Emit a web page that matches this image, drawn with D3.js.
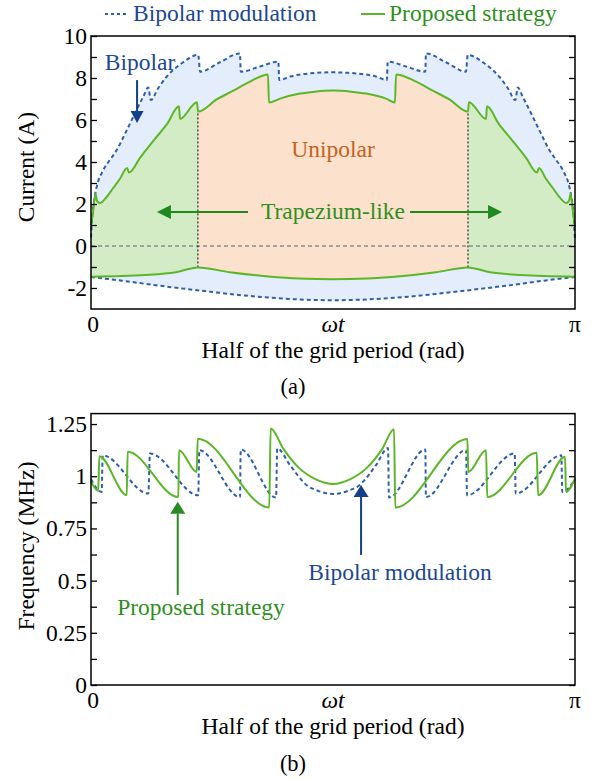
<!DOCTYPE html>
<html>
<head>
<meta charset="utf-8">
<script src="https://cdn.jsdelivr.net/npm/d3@7/dist/d3.min.js"></script>
<style>
  html, body { margin: 0; padding: 0; background: #fff; }
</style>
</head>
<body>
<svg id="chart" width="594" height="780"></svg>
<script>
// ---- data (x in rad, 0..pi) ----
// (a) current envelopes
var bipolarUpper = [
    [0, 0.4], [0.008, 1.4], [0.023, 2.3], [0.037, 2.82], [0.080, 3.62], [0.123, 4.1],
    [0.167, 4.57], [0.221, 5.35], [0.275, 6.16], [0.339, 7.11], [0.372, 7.55], [0.388, 6.95],
    [0.435, 7.5], [0.491, 8.06], [0.589, 8.7], [0.696, 9.1], [0.708, 8.3], [0.837, 8.75],
    [0.967, 9.17], [0.972, 8.3], [1.097, 8.55], [1.216, 8.78], [1.222, 7.9], [1.292, 8.07],
    [1.422, 8.22], [1.571, 8.27], [1.720, 8.22], [1.850, 8.07], [1.920, 7.9], [1.926, 8.78],
    [2.045, 8.55], [2.170, 8.3], [2.174, 9.17], [2.304, 8.75], [2.434, 8.3], [2.445, 9.1],
    [2.553, 8.7], [2.650, 8.06], [2.707, 7.5], [2.754, 6.95], [2.770, 7.55], [2.802, 7.11],
    [2.867, 6.16], [2.921, 5.35], [2.975, 4.57], [3.019, 4.1], [3.062, 3.62], [3.105, 2.82],
    [3.119, 2.3], [3.133, 1.4], [Math.PI, 0.3]
];
var bipolarLower = [
    [0, -1.48], [0.2, -1.65], [0.4, -1.85], [0.6, -2.03], [0.8, -2.2], [1.0, -2.36],
    [1.2, -2.48], [1.4, -2.56], [1.571, -2.58], [1.74, -2.56], [1.94, -2.48], [2.14, -2.36],
    [2.34, -2.2], [2.54, -2.03], [2.74, -1.85], [2.94, -1.65], [Math.PI, -1.48]
];
var proposedUpper = [
    [0, 1.0], [0.013, 1.6], [0.029, 2.5], [0.039, 2.15], [0.058, 2.05], [0.097, 2.3],
    [0.143, 2.75], [0.188, 3.2], [0.234, 3.72], [0.247, 3.5], [0.318, 4.2], [0.415, 5.1],
    [0.493, 5.8], [0.571, 6.65], [0.578, 6.05], [0.688, 6.85], [0.695, 6.4], [0.816, 6.98],
    [0.924, 7.40], [1.032, 7.83], [1.149, 8.17], [1.155, 6.83], [1.227, 7.02], [1.357, 7.26],
    [1.454, 7.35], [1.571, 7.40], [1.688, 7.35], [1.785, 7.26], [1.915, 7.02], [1.973, 6.83],
    [1.980, 8.17], [2.110, 7.83], [2.218, 7.40], [2.326, 6.98], [2.447, 6.4], [2.453, 6.85],
    [2.564, 6.05], [2.570, 6.65], [2.648, 5.8], [2.726, 5.1], [2.824, 4.2], [2.895, 3.5],
    [2.908, 3.72], [2.953, 3.2], [2.999, 2.75], [3.044, 2.3], [3.083, 2.05], [3.103, 2.15],
    [3.113, 2.5], [3.129, 1.6], [Math.PI, 0.9]
];
var proposedLower = [
    [0, -1.46], [0.35, -1.38], [0.55, -1.25], [0.694, -1.02], [0.9, -1.25], [1.15, -1.45],
    [1.35, -1.55], [1.571, -1.58], [1.79, -1.55], [1.99, -1.45], [2.24, -1.25], [2.447, -1.02],
    [2.59, -1.25], [2.79, -1.38], [Math.PI, -1.46]
];
// unipolar zone borders: x, lower and upper current
var zoneEdges = [[0.694, -1.02, 6.4], [2.447, -1.02, 6.4]];

// (b) switching frequency
var bipolarFreq = [
    [0, 0.985], [0.069, 0.925], [0.076, 1.10], [0.372, 0.917], [0.383, 1.109], [0.696, 0.909],
    [0.703, 1.125], [0.967, 0.90], [0.972, 1.128], [1.201, 0.898], [1.209, 1.133], [1.292, 1.053],
    [1.400, 0.957], [1.474, 0.93], [1.571, 0.915], [1.668, 0.93], [1.742, 0.957], [1.850, 1.053],
    [1.928, 1.135], [1.934, 0.898], [2.170, 1.128], [2.174, 0.90], [2.434, 1.125], [2.441, 0.909],
    [2.750, 1.109], [2.757, 0.917], [3.053, 1.10], [3.059, 0.925], [Math.PI, 0.985]
];
var proposedFreq = [
    [0, 0.975], [0.047, 0.93], [0.054, 1.096], [0.232, 0.91], [0.238, 1.117], [0.567, 0.90],
    [0.571, 1.125], [0.686, 1.02], [0.693, 1.18], [1.157, 0.85], [1.166, 1.229], [1.25, 1.13],
    [1.35, 1.04], [1.46, 0.985], [1.571, 0.963], [1.68, 0.985], [1.79, 1.04], [1.89, 1.13],
    [1.967, 1.225], [1.975, 0.85], [2.443, 1.178], [2.449, 1.02], [2.564, 1.125], [2.572, 0.90],
    [2.893, 1.112], [2.902, 0.909], [3.077, 1.093], [3.083, 0.925], [Math.PI, 0.99]
];

var xTickLabels = [[0, '0'], [Math.PI / 2, 'ωt'], [Math.PI, 'π']];
var currentTicks = d3.range(-2, 11);
var freqTicks = d3.range(0, 1.26, 0.125);

// ---- styles ----
var BLUE = '#2e5fa9', GREEN = '#5cb628',
    BLUE_FILL = '#e4edfb', GREEN_FILL = '#d4ecc5', ORANGE_FILL = '#fce1cd',
    BLUE_TEXT = '#1d4793', GREEN_TEXT = '#2f8f1c', ORANGE_TEXT = '#c4621f',
    FONT = "'Liberation Serif'",
    FS = 23.5;

var svg = d3.select('#chart');
var x = d3.scaleLinear().domain([0, Math.PI]).range([91, 575]);
var yA = d3.scaleLinear().domain([-3, 10]).range([309, 36]);
var yB = d3.scaleLinear().domain([0, 1.3]).range([685, 413.6]);

function lineOf(y) {
    return d3.line().x(function (d) { return x(d[0]); }).y(function (d) { return y(d[1]); })
        .curve(d3.curveMonotoneX);
}
function areaDown(y) {
    return d3.area().x(function (d) { return x(d[0]); })
        .y0(y.range()[0]).y1(function (d) { return y(d[1]); })
        .curve(d3.curveMonotoneX);
}
function arrow(g, x1, y1, x2, y2, color, len, wid) {
    var a = Math.atan2(y2 - y1, x2 - x1),
        bx = x2 - len * Math.cos(a), by = y2 - len * Math.sin(a),
        nx = -Math.sin(a) * wid / 2, ny = Math.cos(a) * wid / 2;
    g.append('line').attr('x1', x1).attr('y1', y1).attr('x2', bx).attr('y2', by)
        .attr('stroke', color).attr('stroke-width', 2);
    g.append('path')
        .attr('d', 'M' + x2 + ',' + y2 + 'L' + (bx + nx) + ',' + (by + ny) + 'L' + (bx - nx) + ',' + (by - ny) + 'Z')
        .attr('fill', color);
}
function styleAxis(sel) {
    sel.select('.domain').remove();
    sel.selectAll('.tick line').attr('stroke', '#000').attr('stroke-width', 1.3);
    sel.selectAll('.tick text').attr('font-size', FS).attr('fill', '#000');
}
function frame(g, y, ticks, fmt) {
    var r = x.range(), d = y.range();
    g.append('g').attr('transform', 'translate(' + r[0] + ',0)')
        .call(d3.axisLeft(y).tickValues(ticks).tickSize(-6).tickPadding(4).tickFormat(fmt))
        .call(styleAxis);
    g.append('g').attr('transform', 'translate(' + r[1] + ',0)')
        .call(d3.axisRight(y).tickValues(ticks).tickSize(-6).tickFormat(''))
        .call(styleAxis);
    g.append('rect').attr('x', r[0]).attr('y', d[1]).attr('width', r[1] - r[0]).attr('height', d[0] - d[1])
        .attr('fill', 'none').attr('stroke', '#000').attr('stroke-width', 1.5);
    g.selectAll('.xlab').data(xTickLabels).enter().append('text')
        .attr('x', function (t) { return x(t[0]) + (t[0] === 0 ? 2 : 0); })
        .attr('y', d[0] + 23)
        .attr('text-anchor', 'middle').attr('font-size', FS)
        .attr('font-style', function (t) { return t[1] === 'ωt' ? 'italic' : null; })
        .text(function (t) { return t[1]; });
    g.append('text').attr('x', 333).attr('y', d[0] + 49).attr('text-anchor', 'middle')
        .attr('font-size', FS).text('Half of the grid period (rad)');
}

// ---- (a) current ----
var defs = svg.append('defs');
var ga = svg.append('g');
var zones = [[0, zoneEdges[0][0], 'trapL'], [zoneEdges[0][0], zoneEdges[1][0], 'uni'], [zoneEdges[1][0], Math.PI, 'trapR']];
zones.forEach(function (z) {
    defs.append('clipPath').attr('id', 'clip-' + z[2]).append('rect')
        .attr('x', x(z[0])).attr('y', 0).attr('width', x(z[1]) - x(z[0])).attr('height', 780);
});

ga.append('path').datum(bipolarUpper).attr('d', areaDown(yA)).attr('fill', BLUE_FILL);
zones.forEach(function (z) {
    ga.append('path').datum(proposedUpper).attr('d', areaDown(yA))
        .attr('clip-path', 'url(#clip-' + z[2] + ')')
        .attr('fill', z[2] === 'uni' ? ORANGE_FILL : GREEN_FILL);
});
ga.append('path').datum(proposedLower).attr('d', areaDown(yA)).attr('fill', BLUE_FILL);
ga.append('path').datum(bipolarLower).attr('d', areaDown(yA)).attr('fill', '#fff');

ga.append('line').attr('x1', x(0)).attr('x2', x(Math.PI)).attr('y1', yA(0)).attr('y2', yA(0))
    .attr('stroke', '#8c8c8c').attr('stroke-width', 1.5).attr('stroke-dasharray', '4,3');
ga.selectAll('.edge').data(zoneEdges).enter().append('line')
    .attr('x1', function (d) { return x(d[0]); }).attr('x2', function (d) { return x(d[0]); })
    .attr('y1', function (d) { return yA(d[1]); }).attr('y2', function (d) { return yA(d[2]); })
    .attr('stroke', '#000').attr('stroke-width', 1).attr('stroke-dasharray', '2,2');

[bipolarUpper, bipolarLower].forEach(function (s) {
    ga.append('path').datum(s).attr('d', lineOf(yA)).attr('fill', 'none')
        .attr('stroke', BLUE).attr('stroke-width', 2).attr('stroke-dasharray', '4,3');
});
[proposedUpper, proposedLower].forEach(function (s) {
    ga.append('path').datum(s).attr('d', lineOf(yA)).attr('fill', 'none')
        .attr('stroke', GREEN).attr('stroke-width', 2);
});

frame(ga, yA, currentTicks, function (d) { return d % 2 === 0 ? d : ''; });
ga.append('text').attr('transform', 'translate(34,167) rotate(-90)').attr('text-anchor', 'middle')
    .attr('font-size', FS).text('Current (A)');

// annotations (a)
ga.append('text').attr('x', 140).attr('y', 70).attr('text-anchor', 'middle')
    .attr('font-size', FS).attr('fill', BLUE_TEXT).text('Bipolar');
arrow(ga, x(0.299), yA(7.9), x(0.299), yA(5.86), '#123f88', 12, 13);
ga.append('text').attr('x', 333).attr('y', 157).attr('text-anchor', 'middle')
    .attr('font-size', FS).attr('fill', ORANGE_TEXT).text('Unipolar');
ga.append('text').attr('x', 333).attr('y', 219).attr('text-anchor', 'middle')
    .attr('font-size', FS).attr('fill', GREEN_TEXT).text('Trapezium-like');
arrow(ga, x(1.019), yA(1.62), x(0.428), yA(1.62), '#1e8a1e', 14, 14);
arrow(ga, x(2.071), yA(1.62), x(2.668), yA(1.62), '#1e8a1e', 14, 14);
ga.append('text').attr('x', 293).attr('y', 394).attr('text-anchor', 'middle')
    .attr('font-size', FS - 1).text('(a)');

// legend
var lg = svg.append('g');
lg.append('line').attr('x1', 105).attr('x2', 127).attr('y1', 14).attr('y2', 14)
    .attr('stroke', BLUE).attr('stroke-width', 2).attr('stroke-dasharray', '3,3');
lg.append('text').attr('x', 133).attr('y', 21).attr('font-size', FS).attr('fill', BLUE_TEXT)
    .text('Bipolar modulation');
lg.append('line').attr('x1', 361).attr('x2', 385).attr('y1', 14).attr('y2', 14)
    .attr('stroke', GREEN).attr('stroke-width', 2);
lg.append('text').attr('x', 389).attr('y', 21).attr('font-size', FS).attr('fill', GREEN_TEXT)
    .text('Proposed strategy');

// ---- (b) frequency ----
var gb = svg.append('g');
gb.append('path').datum(bipolarFreq).attr('d', lineOf(yB)).attr('fill', 'none')
    .attr('stroke', BLUE).attr('stroke-width', 2).attr('stroke-dasharray', '4,3');
gb.append('path').datum(proposedFreq).attr('d', lineOf(yB)).attr('fill', 'none')
    .attr('stroke', GREEN).attr('stroke-width', 2);

frame(gb, yB, freqTicks, function (d) {
    var q = d / 0.25;
    return Math.abs(q - Math.round(q)) < 1e-6 ? String(+d.toFixed(2)) : '';
});
gb.append('text').attr('transform', 'translate(34,546) rotate(-90)').attr('text-anchor', 'middle')
    .attr('font-size', FS).text('Frequency (MHz)');

arrow(gb, x(0.563), yB(0.431), x(0.563), yB(0.878), '#2a8a22', 12, 15);
gb.append('text').attr('x', 201).attr('y', 615).attr('text-anchor', 'middle')
    .attr('font-size', FS).attr('fill', GREEN_TEXT).text('Proposed strategy');
arrow(gb, x(1.753), yB(0.623), x(1.753), yB(0.958), '#123f88', 12, 15);
gb.append('text').attr('x', 400).attr('y', 580).attr('text-anchor', 'middle')
    .attr('font-size', FS).attr('fill', BLUE_TEXT).text('Bipolar modulation');
gb.append('text').attr('x', 293).attr('y', 771).attr('text-anchor', 'middle')
    .attr('font-size', FS - 1).text('(b)');

// one serif face for every label, axis ticks included
svg.selectAll('g').attr('font-family', null);
svg.selectAll('text').style('font-family', FONT);
</script>
</body>
</html>
